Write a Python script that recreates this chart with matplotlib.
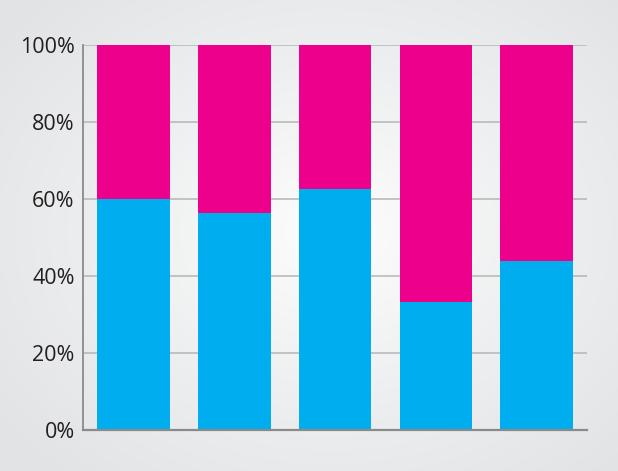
import numpy as np
import matplotlib
matplotlib.use("Agg")
import matplotlib.pyplot as plt
from matplotlib.colors import LinearSegmentedColormap

# share of the lower (cyan) part in each bar, percent
groups = ["A", "B", "C", "D", "E"]
lower = [60.0, 56.3, 62.5, 33.3, 43.8]
upper = [100 - v for v in lower]
yticks = [0, 20, 40, 60, 80, 100]
ytick_labels = ["0%", "20%", "40%", "60%", "80%", "100%"]

cyan = "#00aeef"
magenta = "#ec008c"

plt.rcParams['font.family'] = ['Open Sans', 'DejaVu Sans']

fig = plt.figure(figsize=(6.18, 4.71), dpi=100)

# radial background: light centre, grey edges
bg = fig.add_axes([0, 0, 1, 1], zorder=-10)
w, h = 618, 471
xx, yy = np.meshgrid(np.arange(w), np.arange(h))
r = np.sqrt(((xx - 330) / 420.0) ** 2 + ((yy - 230) / 330.0) ** 2)
r = np.clip(r, 0, 1)
cmap = LinearSegmentedColormap.from_list("bg", ["#fdfdfd", "#eeeff0", "#e2e3e5"])
bg.imshow(r, cmap=cmap, vmin=0, vmax=1, aspect="auto", extent=[0, 1, 0, 1], origin="upper")
bg.axis("off")

ax = fig.add_axes([0.1343, 0.0877, 0.8157, 0.8161])
ax.patch.set_alpha(0)

x = np.arange(len(groups))
ax.bar(x, lower, width=0.72, color=cyan, zorder=3)
ax.bar(x, upper, width=0.72, bottom=lower, color=magenta, zorder=3)

ax.set_xlim(-0.5, 4.5)
ax.set_ylim(0, 100)
ax.set_yticks(yticks)
ax.set_yticklabels(ytick_labels)
ax.set_xticks([])
ax.tick_params(axis="y", length=0, pad=6, labelsize=15.5, labelcolor="#231f20")

ax.yaxis.grid(True, color="#b5b5b5", linewidth=1.1, zorder=0)
ax.set_axisbelow(True)
for side in ["top", "right"]:
    ax.spines[side].set_visible(False)
ax.spines["left"].set_color("#8a8a8a")
ax.spines["bottom"].set_color("#8a8a8a")
ax.spines["left"].set_linewidth(1.3)
ax.spines["bottom"].set_linewidth(1.6)
ax.spines["bottom"].set_zorder(5)

fig.savefig("out.png", dpi=100)
